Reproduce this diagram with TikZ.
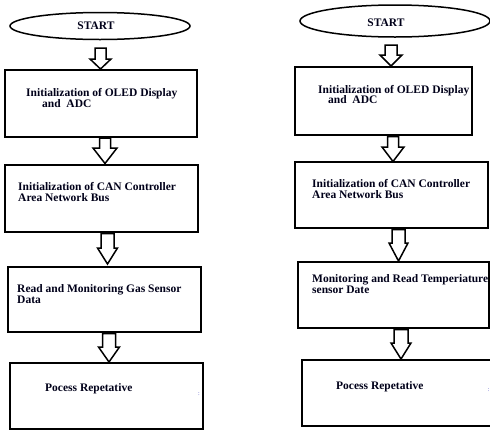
\documentclass[tikz,border=0pt]{standalone}
\usepackage{fontspec}
\setmainfont{Liberation Serif}
\usetikzlibrary{shapes.geometric}
\newcommand\blkarrow[6]{% xc, y top, y head, y tip, shaft half, head half
  \draw[arrowline] (#1-#5,#2) -- (#1+#5,#2) -- (#1+#5,#3) -- (#1+#6,#3) -- (#1,#4) -- (#1-#6,#3) -- (#1-#5,#3) -- cycle;}
\begin{document}
\begin{tikzpicture}[x=1pt,y=-1pt,
  box/.style={draw=black,line width=2pt,rectangle,inner sep=0pt},
  oval/.style={draw=black,line width=1.5pt,ellipse,inner sep=0pt},
  arrowline/.style={draw=black,line width=1.5pt,line join=miter,fill=white},
  txt/.style={anchor=base west,inner sep=0pt,font=\fontsize{11.5}{11.5}\selectfont\bfseries,text=black!90!blue},
  ctxt/.style={anchor=base,inner sep=0pt,font=\fontsize{11.5}{11.5}\selectfont\bfseries,text=black!90!blue},
  dotmark/.style={inner sep=0pt,font=\fontsize{6}{6}\selectfont,text=blue!50!gray}]
\useasboundingbox (0,0) rectangle (490,429);
\begin{scope}
\clip (0,0) rectangle (490,429);
% left chart
\node[oval,minimum width=180pt,minimum height=27pt] (ls) at (100,26) {};
\node[ctxt] (lst) at (96,29.5) {START};
\node[box,minimum width=192pt,minimum height=67pt] (l1) at (101,103.5) {};
\node[box,minimum width=193pt,minimum height=67pt] (l2) at (101.5,198.5) {};
\node[box,minimum width=193pt,minimum height=65pt] (l3) at (104.5,299.5) {};
\node[box,minimum width=193pt,minimum height=66pt] (l4) at (106.5,396) {};
\node[txt] (l1a) at (26,96) {Initialization of OLED Display};
\node[txt] (l1b) at (42,107) {and~~ADC};
\node[txt] (l2a) at (18,190) {Initialization of CAN Controller};
\node[txt] (l2b) at (18,201) {Area Network Bus};
\node[txt] (l3a) at (17,292) {Read and Monitoring Gas Sensor};
\node[txt] (l3b) at (17,303) {Data};
\node[txt] (l4a) at (45,391) {Pocess Repetative};
\node[dotmark] (lm) at (199,394) {:};
\blkarrow{100.5}{48}{59}{69}{5.5}{10.5}
\blkarrow{105}{138}{148}{163.5}{5.5}{12}
\blkarrow{107.5}{233.5}{248}{264}{6.5}{10}
\blkarrow{109}{333.5}{347}{362}{6.5}{10.5}
% right chart
\node[oval,minimum width=190pt,minimum height=32pt] (rs) at (395,21) {};
\node[ctxt] (rst) at (386,26.5) {START};
\node[box,minimum width=177pt,minimum height=68pt] (r1) at (383.5,101) {};
\node[box,minimum width=193pt,minimum height=66pt] (r2) at (391.5,195) {};
\node[box,minimum width=191pt,minimum height=66pt] (r3) at (393.5,295) {};
\node[box,minimum width=193pt,minimum height=66pt] (r4) at (398.5,393) {};
\node[txt] (r1a) at (318,93) {Initialization of OLED Display};
\node[txt] (r1b) at (328,103.5) {and~~ADC};
\node[txt] (r2a) at (312,187) {Initialization of CAN Controller};
\node[txt] (r2b) at (312,198.5) {Area Network Bus};
\node[txt] (r3a) at (312,282.5) {Monitoring and Read Temperiature};
\node[txt] (r3b) at (312,293.5) {sensor Date};
\node[txt] (r4a) at (336,389) {Pocess Repetative};
\node[dotmark] (rm) at (488.5,390) {:};
\blkarrow{391}{45}{55}{66}{6}{11}
\blkarrow{393}{136.5}{147}{161.5}{5.5}{11}
\blkarrow{398.5}{229.5}{243}{261}{6.5}{9.5}
\blkarrow{401}{329.5}{343}{359}{7}{10}
\end{scope}
\end{tikzpicture}
\end{document}
